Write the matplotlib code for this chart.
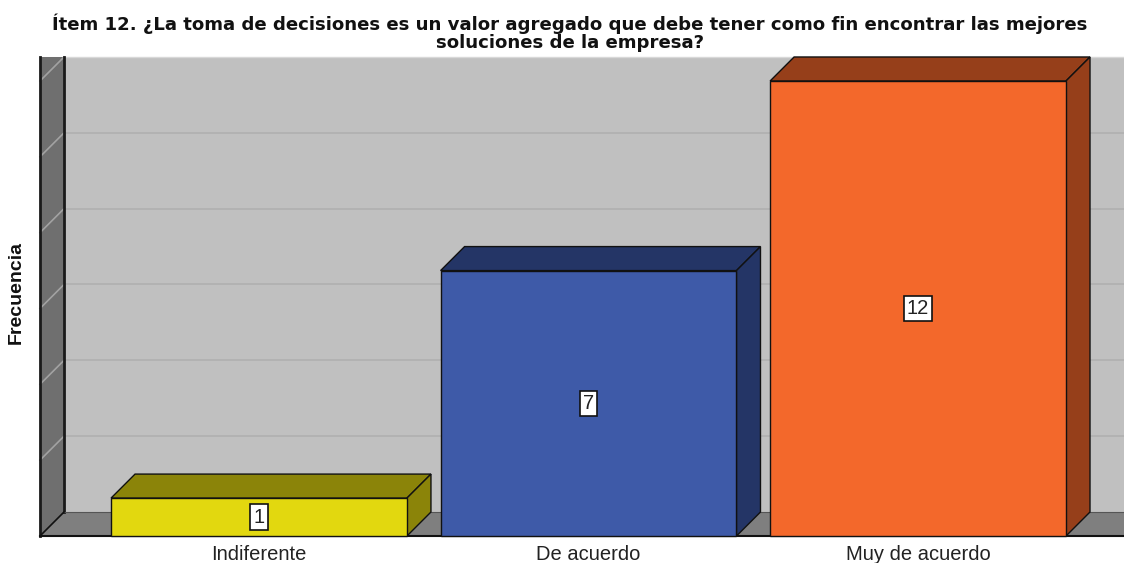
import matplotlib
matplotlib.use("Agg")
import matplotlib.pyplot as plt
from matplotlib.patches import Polygon, Rectangle

# ---- data ----
categories = ["Indiferente", "De acuerdo", "Muy de acuerdo"]
values = [1, 7, 12]
title_text = ("Ítem 12. ¿La toma de decisiones es un valor agregado que debe tener como fin encontrar las mejores\n"
              "soluciones de la empresa?")
ylabel = "Frecuencia"
y_max = 12
grid_step = 2

front_colors = ["#e2d80f", "#3e5aa8", "#f3682b"]
dark_colors = ["#8b8409", "#243566", "#963f1a"]

plt.rcParams['font.family'] = ['Liberation Sans', 'DejaVu Sans']

W, H, DPI = 1124, 563, 100
fig = plt.figure(figsize=(W / DPI, H / DPI), dpi=DPI)
ax = fig.add_axes([0, 0, 1, 1])

# axis limits (data units)
xlim = (-0.786, 2.625)
ylim = (-0.712, 14.136)
ax.set_xlim(*xlim)
ax.set_ylim(*ylim)
ax.axis('off')

px_x = W / (xlim[1] - xlim[0])
px_y = H / (ylim[1] - ylim[0])
dx = 24 / px_x
dy = 24 / px_y
bar_w = 0.898
xw = -0.6646           # front x of left wall
xr = xlim[1] + 1       # beyond right edge

# back wall
ax.add_patch(Rectangle((xw + dx, dy), xr - xw - dx, y_max, facecolor="#c0c0c0",
                       edgecolor="none", zorder=1))
for v in range(grid_step, y_max, grid_step):
    ax.plot([xw + dx, xr], [v + dy, v + dy], color="#b0b0b0", lw=1.2, zorder=1.5)
ax.plot([xw + dx, xr], [y_max + dy, y_max + dy], color="#d8d8d8", lw=1, zorder=1.5)

# left wall
ax.add_patch(Polygon([(xw, 0), (xw + dx, dy), (xw + dx, y_max + dy), (xw, y_max + dy)],
                     closed=True, facecolor="#6f6f6f", edgecolor="none", zorder=2))
for v in range(grid_step, y_max + 1, grid_step):
    ax.plot([xw + dx, xw], [v + dy, v], color="#a2a2a2", lw=1.2, zorder=2.1)
ax.plot([xw, xw], [0, y_max + dy], color="#1a1a1a", lw=2, zorder=2.2)
ax.plot([xw + dx, xw + dx], [dy, y_max + dy], color="#1a1a1a", lw=2, zorder=2.2)

# floor
ax.add_patch(Polygon([(xw, 0), (xw + dx, dy), (xr, dy), (xr, 0)], closed=True,
                     facecolor="#7f7f7f", edgecolor="none", zorder=2))
ax.plot([xw + dx, xr], [dy, dy], color="#555555", lw=0.8, zorder=2.2)
ax.plot([xw, xw + dx], [0, dy], color="#111111", lw=1.2, zorder=2.2)
ax.plot([xw, xr], [0, 0], color="#111111", lw=1.5, zorder=2.3)

# bars
for i, (v, fc, dc) in enumerate(zip(values, front_colors, dark_colors)):
    l = i - bar_w / 2
    r = i + bar_w / 2
    z = 3 + i
    ax.add_patch(Polygon([(l, v), (l + dx, v + dy), (r + dx, v + dy), (r, v)], closed=True,
                         facecolor=dc, edgecolor="#111111", lw=1, zorder=z))
    ax.add_patch(Polygon([(r, 0), (r + dx, dy), (r + dx, v + dy), (r, v)], closed=True,
                         facecolor=dc, edgecolor="#111111", lw=1, zorder=z))
    ax.bar(i, v, width=bar_w, bottom=0, color=fc, edgecolor="#111111", lw=1, zorder=z + 0.1)
    ax.text(i, v / 2, str(v), ha='center', va='center', fontsize=14.5, color="#222222", zorder=z + 0.2,
            bbox=dict(boxstyle='square,pad=0.16', facecolor='white', edgecolor='#111111', lw=1.2))

# category labels
for i, c in enumerate(categories):
    ax.text(i, -0.633, c, ha='center', va='baseline', fontsize=14.5, color="#222222")

# y label
fig.text(16 / W, 1 - 293 / H, ylabel, rotation=90, ha='center', va='center',
         fontsize=14, fontweight='bold', color="#111111")

# title (single two-line text)
fig.text(570 / W, 1 - 14 / H, title_text, ha='center', va='top', multialignment='center',
         fontsize=13.1, fontweight='bold', color="#111111", linespacing=0.98,
         family=['DejaVu Sans'])

fig.savefig("out.png", dpi=DPI, facecolor='white')
